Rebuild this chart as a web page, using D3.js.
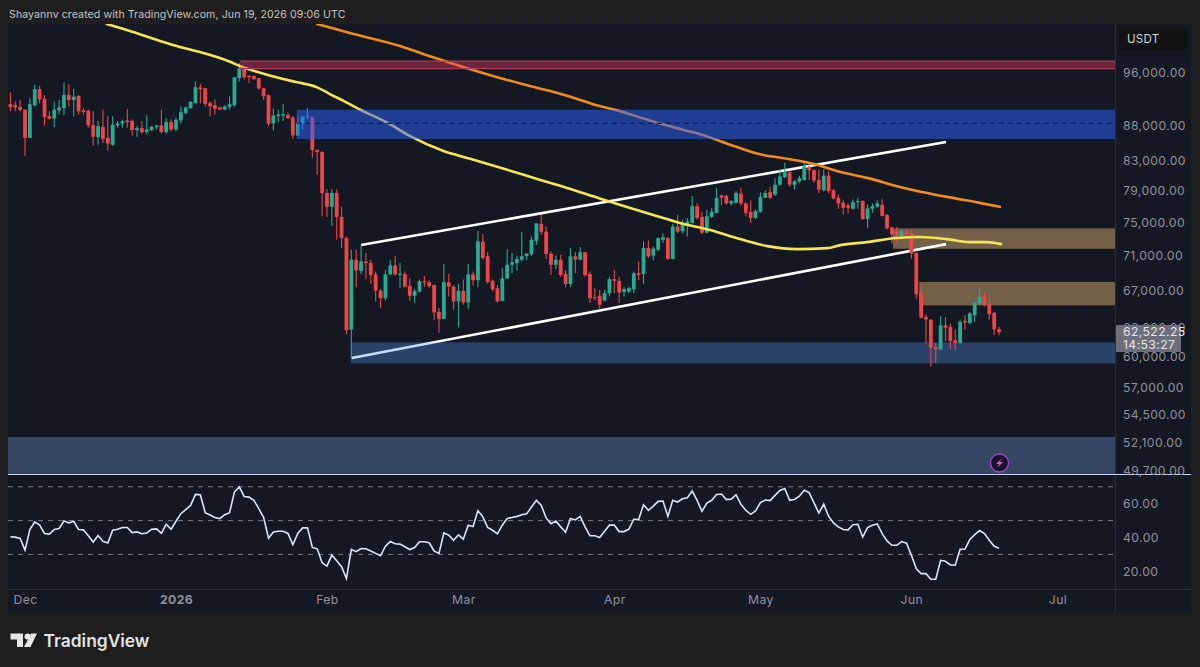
<!DOCTYPE html>
<html><head><meta charset="utf-8">
<script src="https://d3js.org/d3.v7.min.js"></script>
<style>
html,body{margin:0;padding:0;background:#1e1e1e;width:1200px;height:667px;overflow:hidden}
svg{display:block}
text{font-family:Inter,"Open Sans",sans-serif}
</style></head><body>
<svg id="c" width="1200" height="667"></svg>
<script>
const startDay = "2025-11-28";
// daily candles: [open, high, low, close]
const candlesDec = [
[91170,92940,90100,90730],[91020,91560,90100,90680],[90730,91800,90100,90300],[90350,90350,83700,86220],[86220,92060,86220,91170],[91020,94140,90830,93460],[93460,93980,91320,91900],[92010,92580,88020,89230],[89380,90100,88890,88990],[89040,91560,87780,90350],[90250,91800,89620,90680],[90590,94500,89520,92580],[92580,94240,90830,91800],[91800,93520,89380,92320],[92420,92580,89620,90100],[90250,90590,89620,90010],[90200,90350,87680,88020],[88110,90100,85110,86370],[86320,88650,85250,87920],[87820,90350,85500,86080],[86220,89380,84430,85400],[85250,89380,85110,88110],[88020,88650,87680,88310],[88310,88890,87680,88650],[88740,90490,87680,88500],[88650,88890,86560,87340],[87340,87920,86370,87630],[87630,88650,86850,87050],[87050,89520,86710,87440],[87340,87920,87190,87820],[87780,88070,87440,88020],[88020,90350,86850,87050],[87050,89130,86800,88500],[88500,88890,87190,87440]];
const candlesJan = [
[87440,89130,87190,88840],[88740,90830,88310,89960],[89860,90830,89620,90680],[90590,91650,90440,91510],[91320,94660,91320,93780],[93720,94300,91320,93460],[93620,93620,90830,91220],[91320,91560,89380,90830],[91020,91900,89620,90490],[90680,90830,90250,90350],[90350,91020,90250,90830],[90730,92320,90350,91170],[91020,95340,90830,95340],[95180,97620,94660,96740],[96840,97000,95020,95340],[95540,95700,94400,95340],[95490,95600,94920,95020],[95180,95180,93360,93570],[93620,93620,91800,92370],[92530,92680,87920,88260],[88310,90490,87290,89470],[89380,90350,88500,89620],[89470,91170,88650,89670],[89570,89860,88990,89080],[89180,89380,86080,86560],[86560,89380,86560,88410],[88310,89470,87440,89280],[89280,90590,88890,89380],[89300,89300,83450,84520],[84520,84610,81120,84240],[84240,84330,75730,78720]];
const candlesFeb = [
[78720,79230,75650,76930],[76930,79230,74530,78720],[78720,79150,72840,75650],[75650,76930,71860,73040],[73040,73230,62290,62700],[62780,71660,59820,70480],[70480,71660,67330,69220],[69180,72250,68830,70280],[70280,71270,68240,70090],[70090,70480,67690,68710],[68790,69100,65770,66960],[66960,67140,65050,66130],[66130,69300,65870,68790],[68790,70400,68710,69810],[69810,70950,68630,68790],[68790,70090,67220,68870],[68830,69100,67330,67400],[67470,68320,65840,66390],[66390,67180,65590,66890],[66860,68200,66780,68010],[68010,68590,67400,67870],[67900,68120,67290,67470],[67580,67650,63780,64580],[64650,65050,62450,63890],[63890,69970,63890,67900],[67900,68830,66310,67400],[67400,67580,64870,65770],[65770,67690,62990,66930]];
const candlesMar = [
[66930,68200,65410,65660],[65660,69970,64980,68790],[68790,69100,67510,68120],[68120,73900,67330,72640],[72600,73550,70480,70680],[70880,71390,67760,67940],[68050,68200,66860,67110],[67220,67580,65660,65770],[65840,69490,65770,68320],[68320,71740,68320,69890],[69890,71270,68910,70170],[70090,70950,69220,70560],[70480,73750,70280,70880],[70880,71270,70400,71190],[71110,73230,70950,72840],[72720,74880,72250,74830],[74790,75950,73430,73820],[73820,74450,70560,71150],[71190,71460,68710,69890],[69890,70950,69380,70480],[70480,71070,68510,68710],[68830,69300,67330,67690],[67690,71860,67400,70880],[70880,71350,68910,70480],[70480,71980,70400,71350],[71350,71350,68510,68710],[68830,69100,65590,66130],[66240,67220,65870,66130],[66390,67040,64910,65410],[65870,67040,65770,66680],[66680,68510,66310,68240]];
const candlesApr = [
[68240,69300,66680,68050],[68050,68510,65590,66750],[66820,67330,66310,67110],[66860,67400,66680,67220],[67110,69100,66680,68910],[68910,70280,68120,68710],[68830,72640,67690,71860],[71860,72760,70680,70880],[70950,72050,70400,71780],[71660,73160,71460,73040],[72840,73630,72450,73160],[73040,73160,70480,70560],[70560,74790,70560,74450],[74450,75950,73630,73820],[73900,75290,73630,74880],[74660,75520,73230,75090],[74880,78300,74880,77010],[77010,77350,75300,75520],[75650,76290,73550,73700],[73700,76590,73630,75730],[75650,76800,75520,76290],[76160,79360,76160,78080],[78420,78510,77100,78080],[78300,78510,77230,77350],[77350,77780,77100,77650],[77440,78940,77350,78720],[78640,79360,77100,77350],[77350,77520,75730,76160],[76290,77780,74880,75520],[75520,76590,75390,76380]];
const candlesMay = [
[76290,78810,76160,78170],[78080,79020,78080,78720],[78810,79490,77950,78080],[78510,80660,78300,79790],[79790,81820,79700,80890],[80800,82750,80660,81450],[81450,81590,79490,79790],[79790,80430,79150,80220],[80220,80990,80000,80660],[80430,82750,80340,82280],[82190,82380,80430,81730],[81730,81910,80090,80340],[80430,81820,78720,79150],[79060,81820,78940,80990],[80990,81590,78720,78940],[79060,79230,77860,77990],[78080,78510,76680,77350],[77440,77780,75950,76800],[77100,77350,76070,76800],[76680,77860,76590,77520],[77520,78080,76680,77650],[77650,77780,75300,75390],[75390,77230,74240,76720],[76680,77350,76160,77010],[76930,77780,76800,77350],[77170,77900,75690,75770],[75890,76020,74100,74230],[74350,74440,72410,73500],[73820,74440,72490,73500],[73300,74100,73210,73940],[73820,74020,73210,73540]];
const candlesJun = [
[73620,73820,70620,71210],[71290,71290,66090,66560],[66710,67680,63930,64040],[64110,64390,61330,63830],[63830,63830,59060,60920],[60990,61400,59390,60750],[60750,64180,60720,63230],[63230,64110,61610,62980],[63050,63400,60720,61610],[61680,62770,60650,61400],[61400,63830,61330,63580],[63690,64290,62770,63510],[63470,64640,63330,64460],[64290,65720,63580,65610],[65540,67190,65350,66270],[66340,66710,65250,65350],[65460,66200,63830,64390],[64530,64640,62190,62810],[62810,63050,62190,62522.25]];
const rsiValues = [40.4,40.2,39.4,32.5,44.7,49.2,47.3,42.4,42.0,44.7,45.3,49.8,48.6,49.6,44.7,44.5,41.0,37.3,41.2,37.8,36.7,44.3,44.9,45.9,45.9,42.9,43.3,42.2,42.7,44.9,45.1,42.5,47.8,44.9,49.6,54.1,56.5,59.0,65.5,65.3,54.7,53.3,51.8,51.2,53.5,54.7,66.9,70.0,64.3,63.9,62.0,57.1,51.8,39.6,43.3,43.7,43.7,42.4,35.7,42.4,45.7,45.7,34.1,33.3,25.1,23.1,29.6,26.3,22.7,15.7,32.9,31.6,33.5,33.3,32.0,30.6,29.2,34.9,37.6,36.3,36.1,34.5,32.9,34.1,37.5,37.5,36.9,32.0,30.6,42.7,41.4,38.4,41.6,39.0,47.3,46.5,55.9,52.2,45.9,44.3,42.2,47.3,51.2,51.8,52.5,53.5,54.1,58.0,62.0,59.0,51.6,48.2,49.8,46.3,43.1,51.2,50.4,52.5,46.3,41.0,41.0,40.0,43.7,47.3,47.3,43.5,43.5,44.9,50.8,50.6,59.4,56.1,58.6,61.4,61.6,52.5,62.0,61.0,62.9,63.5,67.5,62.0,55.5,60.4,62.0,65.5,65.7,62.4,62.7,65.3,59.6,56.1,53.7,55.7,60.6,62.2,61.8,64.9,67.8,69.0,62.0,62.5,64.4,67.9,66.6,60.5,54.5,59.7,52.6,48.6,46.3,44.7,44.5,47.6,47.8,40.3,45.9,47.2,48.0,42.3,38.0,35.4,35.4,37.6,36.6,29.5,21.6,18.6,18.6,15.3,15.3,26.5,25.9,23.8,23.6,33.0,33.2,38.8,41.7,44.1,42.3,38.4,34.8,33.6];
// moving averages: days after startDay, price
const yellowDays = [19.8,25.2,30.7,34.8,38.9,42.4,45.1,47.1,50.6,55.4,58.9,63,65.6,68.3,71.8,77.3,82,88.8,94.4,102,108.8,114.3,121,126.6,132,137.5,143.7,149.8,155.4,161.5,167.7,170.4,175.9,182,186.8,192.3,197,200.5,203.4];
const yellowValues = [104110,102740,101220,100220,99400,98580,97810,97120,96200,95160,94530,93750,92710,91700,90340,88460,86500,84400,83290,81780,80430,79370,78000,76900,75890,74900,74020,72920,72080,71720,71840,72200,72560,73050,73170,72920,72560,72560,72320];
const orangeDays = [63,69.7,80,86.8,93.8,100.5,107.3,114.3,121,124.6,131.3,138.1,143,147.8,153.3,159.4,164.8,170.3,175.9,182.7,185.3,192.3,199,203.2];
const orangeValues = [104110,102570,100390,98530,96750,95210,93850,92460,90890,90240,88750,87400,86440,85250,84010,83290,82600,81510,80700,79500,79110,78200,77430,76920];
// channel lines: [day, price] end points
const channelUpper = [[72,72210],[192.1,85640]];
const channelLower = [[70.1,59890],[192.1,72320]];
// zones: start day, upper price, lower price
const supplyRedZone = [47.2,97920,96700];
const blueOrderBlock = [58.8,90340,86050];
const midLevel = 88320;
const brownZoneUpper = [181.2,74230,71760];
const brownZoneLower = [186.6,67930,65350];
const demandZone = [69.9,61460,59360];
const deepDemandZone = [-1,52550,49430];
const priceTicks = [96000,88000,83000,79000,75000,71000,67000,63000,60000,57000,54500,52100,49700];
const rsiTicks = [60,40,20];
const rsiBands = [70,50,30];
const monthDates = ["2025-12-01","2026-01-01","2026-02-01","2026-03-01","2026-04-01","2026-05-01","2026-06-01","2026-07-01"];
const monthLabels = ["Dec","2026","Feb","Mar","Apr","May","Jun","Jul"];
const lastPriceLabel = "62,522.25";
const countdownLabel = "14:53:27";
const headerText = "Shayannv created with TradingView.com, Jun 19, 2026 09:06 UTC";

const candles = [].concat(candlesDec,candlesJan,candlesFeb,candlesMar,candlesApr,candlesMay,candlesJun);
const t0 = Date.parse(startDay+"T00:00:00Z");
const dayDate = d => new Date(t0 + d*864e5);

const svg = d3.select("#c");
const L=8,R=1191,T=24,B=613,AX=1115.5,PB=474.5,TB=589.5;
const x = d3.scaleUtc().domain([dayDate(0),new Date("2026-07-01T00:00:00Z")]).range([10.4,1057.5]);
const y = d3.scaleLog().domain([96000,49700]).range([73,470.7]);
const yr = d3.scaleLinear().domain([20,60]).range([571.3,503.7]);
const xd = d => x(dayDate(d));

svg.append("rect").attr("x",L).attr("y",T).attr("width",R-L).attr("height",B-T).attr("rx",3).attr("fill","#141823");
const defs = svg.append("defs");
defs.append("clipPath").attr("id","top").append("rect").attr("x",L).attr("y",T).attr("width",AX-L).attr("height",PB-T);
defs.append("clipPath").attr("id","sub").append("rect").attr("x",L).attr("y",PB).attr("width",AX-L).attr("height",TB-PB);
const g = svg.append("g").attr("clip-path","url(#top)");

function zone(z,fill){
  g.append("rect").attr("x",z[0]<0?L:xd(z[0])).attr("y",y(z[1]))
   .attr("width",AX-(z[0]<0?L:xd(z[0]))).attr("height",y(z[2])-y(z[1])).attr("fill",fill);
}
zone(brownZoneUpper,"rgba(255,204,128,.4)");
zone(brownZoneLower,"rgba(255,204,128,.4)");

const line = d3.line().x(d=>xd(d[0])).y(d=>y(d[1]));
[channelUpper,channelLower].forEach(c=>g.append("path").attr("d",line(c)).attr("fill","none").attr("stroke","#ffffff").attr("stroke-width",2.6));

zone(demandZone,"rgba(91,156,246,.33)");
zone(deepDemandZone,"rgba(120,160,235,.33)");

const up="#28ab93",dn="#ee4549";
const cg=g.append("g").selectAll("g").data(candles).join("g");
cg.append("line").attr("x1",(d,i)=>xd(i)).attr("x2",(d,i)=>xd(i)).attr("y1",d=>y(d[1])).attr("y2",d=>y(d[2]))
  .attr("stroke",d=>d[3]>=d[0]?up:dn).attr("stroke-width",1.1);
cg.append("rect").attr("x",(d,i)=>xd(i)-1.9).attr("width",3.8)
  .attr("y",d=>y(Math.max(d[0],d[3]))).attr("height",d=>Math.max(1.2,Math.abs(y(d[0])-y(d[3]))))
  .attr("fill",d=>d[3]>=d[0]?up:dn);

const maLine = (days,vals,col)=>g.append("path")
  .attr("d",d3.line().curve(d3.curveMonotoneX).x(d=>xd(d[0])).y(d=>y(d[1]))(days.map((d,i)=>[d,vals[i]])))
  .attr("fill","none").attr("stroke",col).attr("stroke-width",2.6).attr("stroke-linecap","round");
maLine(orangeDays,orangeValues,"#f08c1e");
maLine(yellowDays,yellowValues,"#f7e652");

zone(blueOrderBlock,"rgba(41,98,255,.5)");
zone(supplyRedZone,"rgba(242,54,100,.4)");
g.append("line").attr("x1",xd(blueOrderBlock[0])).attr("x2",AX).attr("y1",y(midLevel)).attr("y2",y(midLevel))
  .attr("stroke","#0d1a4d").attr("stroke-width",1.1).attr("stroke-dasharray","5 4");
[supplyRedZone[1],supplyRedZone[2]].forEach(p=>g.append("line").attr("x1",xd(supplyRedZone[0])).attr("x2",AX).attr("y1",y(p)).attr("y2",y(p)).attr("stroke","#a83c5a").attr("stroke-width",1.2));

// RSI pane
const sub = svg.append("g").attr("clip-path","url(#sub)");
sub.selectAll("line.b").data(rsiBands).join("line").attr("class","b").attr("x1",L).attr("x2",AX)
  .attr("y1",d=>yr(d)).attr("y2",d=>yr(d)).attr("stroke","rgba(200,205,215,.55)").attr("stroke-dasharray","5 5").attr("stroke-width",1);
sub.append("path").attr("d",d3.line().x((d,i)=>xd(i)).y(d=>yr(d))(rsiValues))
  .attr("fill","none").attr("stroke","#d8e6f7").attr("stroke-width",1.6);

// frame lines
svg.append("line").attr("x1",AX).attr("x2",AX).attr("y1",T).attr("y2",B).attr("stroke","#2b2f3a");
svg.append("line").attr("x1",L).attr("x2",R).attr("y1",TB).attr("y2",TB).attr("stroke","#2b2f3a");
svg.append("line").attr("x1",L).attr("x2",R).attr("y1",PB).attr("y2",PB).attr("stroke","#c9d3ee").attr("stroke-width",1.2);

// axes
const axisCol="#8f929b";
function styleAxis(a){a.select(".domain").remove();a.selectAll(".tick line").remove();
  a.selectAll("text").attr("fill",axisCol).attr("font-size",12.2).attr("font-family","Inter,sans-serif").attr("letter-spacing",.4);}
const fmt=d3.format(",.2f");
const ya=svg.append("g").attr("transform","translate(1123,0)").call(d3.axisRight(y).tickValues(priceTicks).tickFormat(fmt).tickSize(0).tickPadding(0));
styleAxis(ya);
const ra=svg.append("g").attr("transform","translate(1123,0)").call(d3.axisRight(yr).tickValues(rsiTicks).tickFormat(fmt).tickSize(0).tickPadding(0));
styleAxis(ra);
const monthD=monthDates.map(s=>new Date(s+"T00:00:00Z"));
const xa=svg.append("g").attr("transform","translate(0,595)").call(d3.axisBottom(x).tickValues(monthD).tickFormat((d,i)=>monthLabels[i]).tickSize(0).tickPadding(0));
styleAxis(xa);
xa.selectAll("text").attr("font-weight",(d,i)=>monthLabels[i]==="2026"?700:400);

// USDT button
svg.append("rect").attr("x",1119).attr("y",28).attr("width",68).attr("height",22).attr("rx",3).attr("fill","#111214");
svg.append("text").attr("x",1127).attr("y",43).attr("fill","#d6d6d6").attr("font-size",11.5).attr("letter-spacing",.3).text("USDT");

// last price box
svg.append("rect").attr("x",1116).attr("y",325).attr("width",65).attr("height",27).attr("rx",1).attr("fill","#6c6f7b");
svg.append("text").attr("x",1123).attr("y",336).attr("fill","#e6e6e8").attr("font-size",12.2).attr("letter-spacing",.4).text(lastPriceLabel);
svg.append("text").attr("x",1123).attr("y",348.5).attr("fill","#e6e6e8").attr("font-size",12.2).attr("letter-spacing",.4).text(countdownLabel);

// bolt icon
svg.append("circle").attr("cx",999.5).attr("cy",463).attr("r",9).attr("fill","#1a1030").attr("stroke","#a24fc4").attr("stroke-width",1.3);
svg.append("path").attr("d","M1002.5 457.5 L996 464 L999.5 464 L996.5 468.5 L1003 462 L999.5 462 Z").attr("fill","#d765b8");

// header and logo
svg.append("text").attr("x",9).attr("y",18).attr("fill","#c4c4c4").attr("font-size",10.6).attr("letter-spacing",.08).text(headerText);
const logo=svg.append("g").attr("fill","#e6e6e6").attr("transform","translate(10.5,633.5)");
logo.append("path").attr("d","M0 0H12.5V13.5H6.5V6H0Z");
logo.append("circle").attr("cx",17).attr("cy",3).attr("r",3);
logo.append("path").attr("d","M20.5 0H26.5L20 13.5H13.5Z");
svg.append("text").attr("x",43.5).attr("y",647).attr("fill","#e2e2e2").attr("font-size",17.4).attr("font-weight",600).text("TradingView");
</script>
</body></html>
